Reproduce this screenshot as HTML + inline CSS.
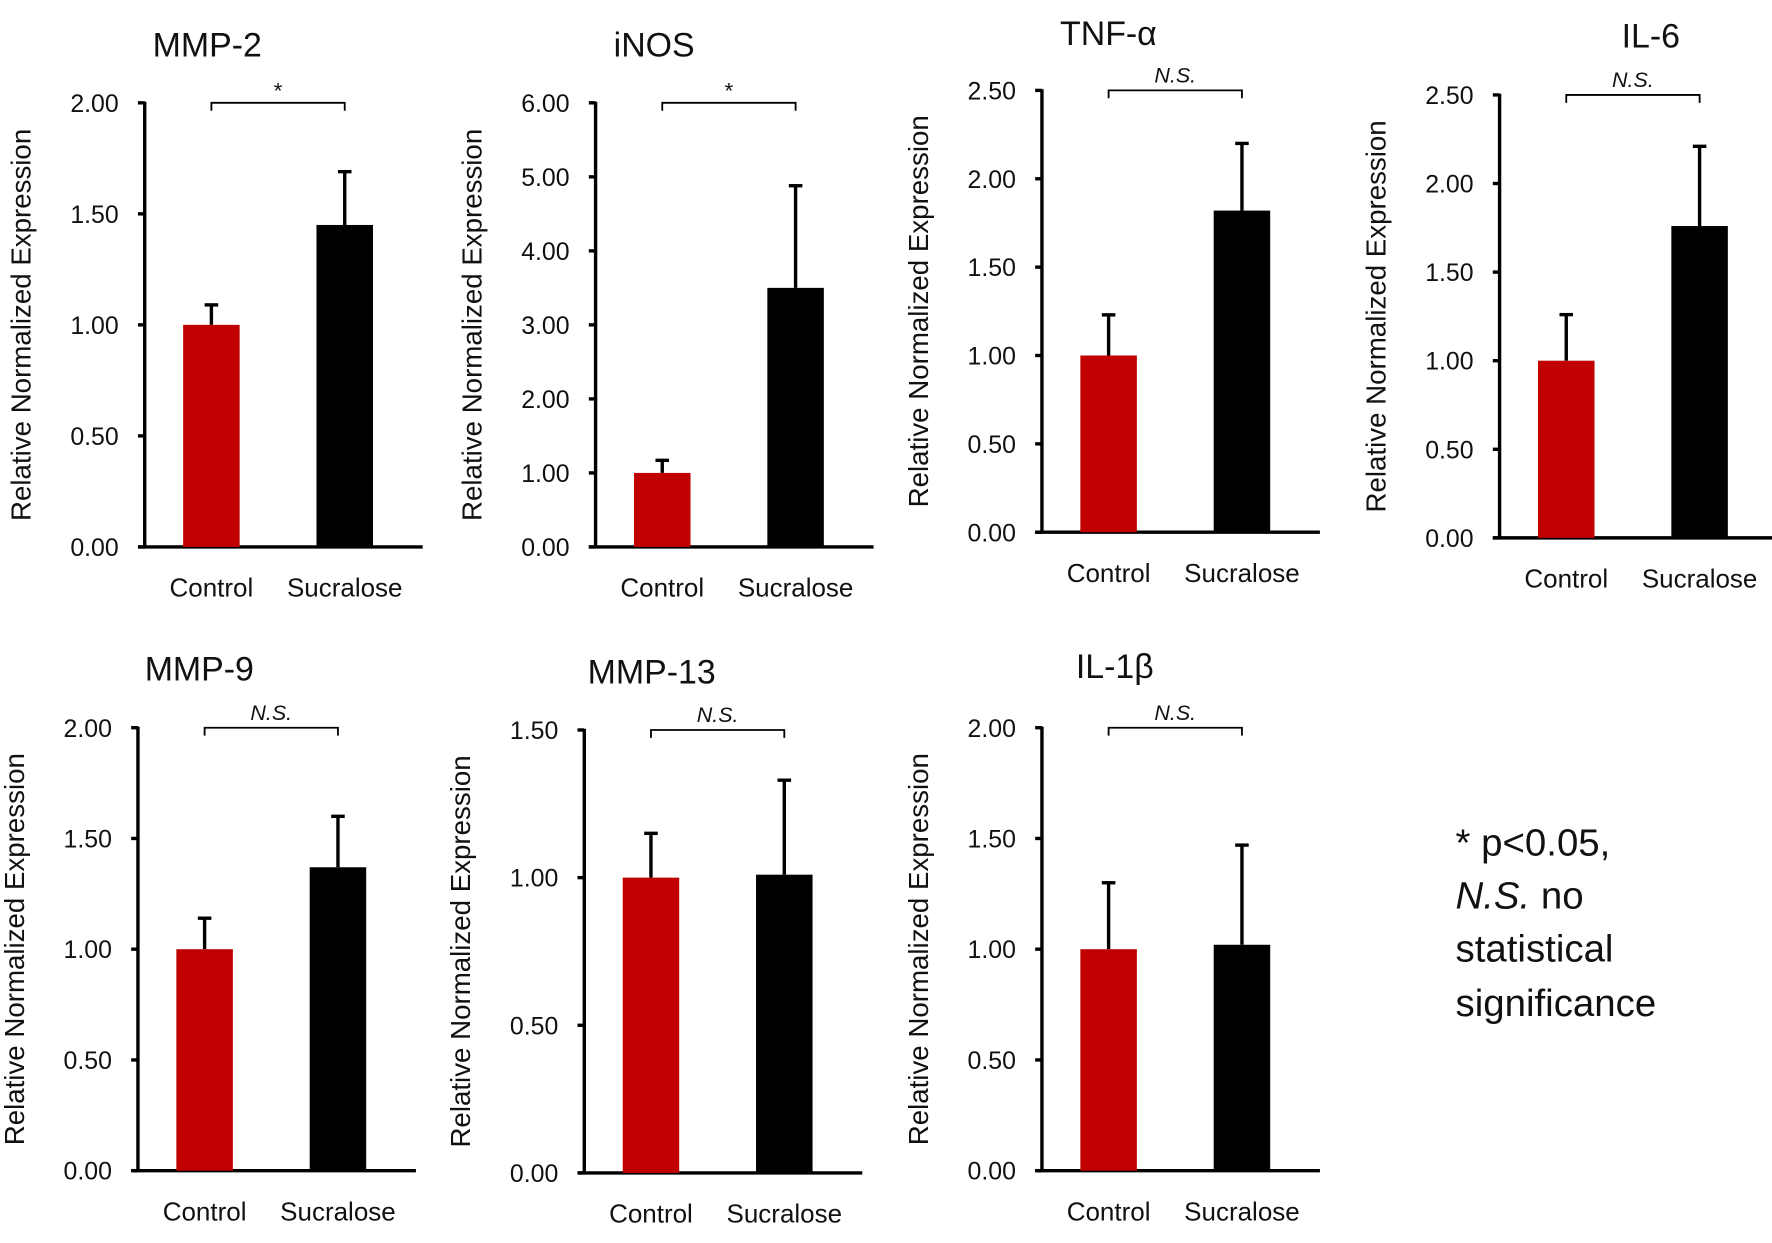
<!DOCTYPE html>
<html><head><meta charset="utf-8"><style>
html,body{margin:0;padding:0;background:#fff}
svg{display:block}
text{font-family:"Liberation Sans",sans-serif;fill:#111}
</style></head><body>
<svg id="fig" width="1772" height="1243" viewBox="0 0 1568 1100" xmlns="http://www.w3.org/2000/svg">
<g font-size="34">
<text x="1288" y="757">* p&lt;0.05,</text>
<text x="1288" y="804"><tspan font-style="italic">N.S.</tspan> no</text>
<text x="1288" y="851">statistical</text>
<text x="1288" y="899">significance</text>
</g>
</svg>
<script>
const genes = ["MMP-2","iNOS","TNF-α","IL-6","MMP-9","MMP-13","IL-1β"];
const categories = ["Control","Sucralose"];
const controlValues = [1.00,1.00,1.00,1.00,1.00,1.00,1.00];
const sucraloseValues = [1.45,3.50,1.82,1.76,1.37,1.01,1.02];
const controlErrors = [0.09,0.17,0.23,0.26,0.14,0.15,0.30];
const sucraloseErrors = [0.24,1.38,0.38,0.45,0.23,0.32,0.45];
const yMaxes = [2,6,2.5,2.5,2,1.5,2];
const tickSteps = [0.5,1,0.5,0.5,0.5,0.5,0.5];
const significance = ["*","*","N.S.","N.S.","N.S.","N.S.","N.S."];

const layout = [
 {ax:128,top:91,bot:484,tx:135,ty:50},
 {ax:527,top:91,bot:484,tx:543,ty:50},
 {ax:922,top:80,bot:471,tx:938,ty:40},
 {ax:1327,top:84,bot:476,tx:1435,ty:42},
 {ax:122,top:644,bot:1036,tx:128,ty:602},
 {ax:517,top:646,bot:1038,tx:520,ty:605},
 {ax:922,top:644,bot:1036,tx:952,ty:600}
];
const NS="http://www.w3.org/2000/svg";
const svg=document.getElementById('fig');
function mk(tag,attrs,parent){const e=document.createElementNS(NS,tag);for(const k in attrs)e.setAttribute(k,attrs[k]);parent.appendChild(e);return e;}
genes.forEach((g,i)=>{
 const L=layout[i];
 const grp=mk('g',{},svg);
 
 
 const y=v=>L.bot-(v/yMaxes[i])*(L.bot-L.top);
 const t=mk('text',{x:L.tx,y:L.ty,'font-size':30},grp);t.textContent=g;
 
 
 const yt=mk('text',{transform:`translate(${L.ax-101},${(L.top+L.bot)/2}) rotate(-90)`,'text-anchor':'middle','font-size':24.5},grp);
 yt.textContent='Relative Normalized Expression';
 
 
 const n=Math.round(yMaxes[i]/tickSteps[i]);
 for(let k=0;k<=n;k++){
  const v=k*tickSteps[i];
  const tk=mk('line',{x1:L.ax-6,x2:L.ax,y1:y(v),y2:y(v),stroke:'#000','stroke-width':3},grp);
  
  
  const tl=mk('text',{x:L.ax-23,y:y(v)+8,'text-anchor':'end','font-size':22},grp);tl.textContent=v.toFixed(2);
  
  
 }
 const ya=mk('line',{x1:L.ax,x2:L.ax,y1:L.top-1,y2:L.bot,stroke:'#000','stroke-width':3},grp);
 
 
 const xa=mk('line',{x1:L.ax-6,x2:L.ax+246,y1:L.bot,y2:L.bot,stroke:'#000','stroke-width':3},grp);
 
 
 const vals=[controlValues[i],sucraloseValues[i]], errs=[controlErrors[i],sucraloseErrors[i]];
 const centers=[L.ax+59,L.ax+177];
 [0,1].forEach(j=>{
  const c=centers[j], v=vals[j], e=errs[j];
  const el=mk('line',{x1:c,x2:c,y1:y(v+e),y2:y(v),stroke:'#000','stroke-width':3},grp);
  
  
  const cap=mk('line',{x1:c-6,x2:c+6,y1:y(v+e),y2:y(v+e),stroke:'#000','stroke-width':3},grp);
  
  
  const b=mk('rect',{x:c-25,y:y(v),width:50,height:L.bot-y(v),fill:j?'#000':'#c00000'},grp);
  
  
  const cl=mk('text',{x:c,y:L.bot+44,'text-anchor':'middle','font-size':23},grp);cl.textContent=categories[j];
  
  
 });
 const br=mk('path',{d:`M${centers[0]},${L.top+7}V${L.top}H${centers[1]}V${L.top+7}`,fill:'none',stroke:'#000','stroke-width':1.6},grp);
 
 
 const s=significance[i];
 const st=mk('text',{x:(centers[0]+centers[1])/2,y:s==='*'?L.top-4:L.top-7,'text-anchor':'middle','font-size':s==='*'?20:19,'font-style':s==='*'?'normal':'italic'},grp);st.textContent=s;
 
 
});
</script>
</body></html>
